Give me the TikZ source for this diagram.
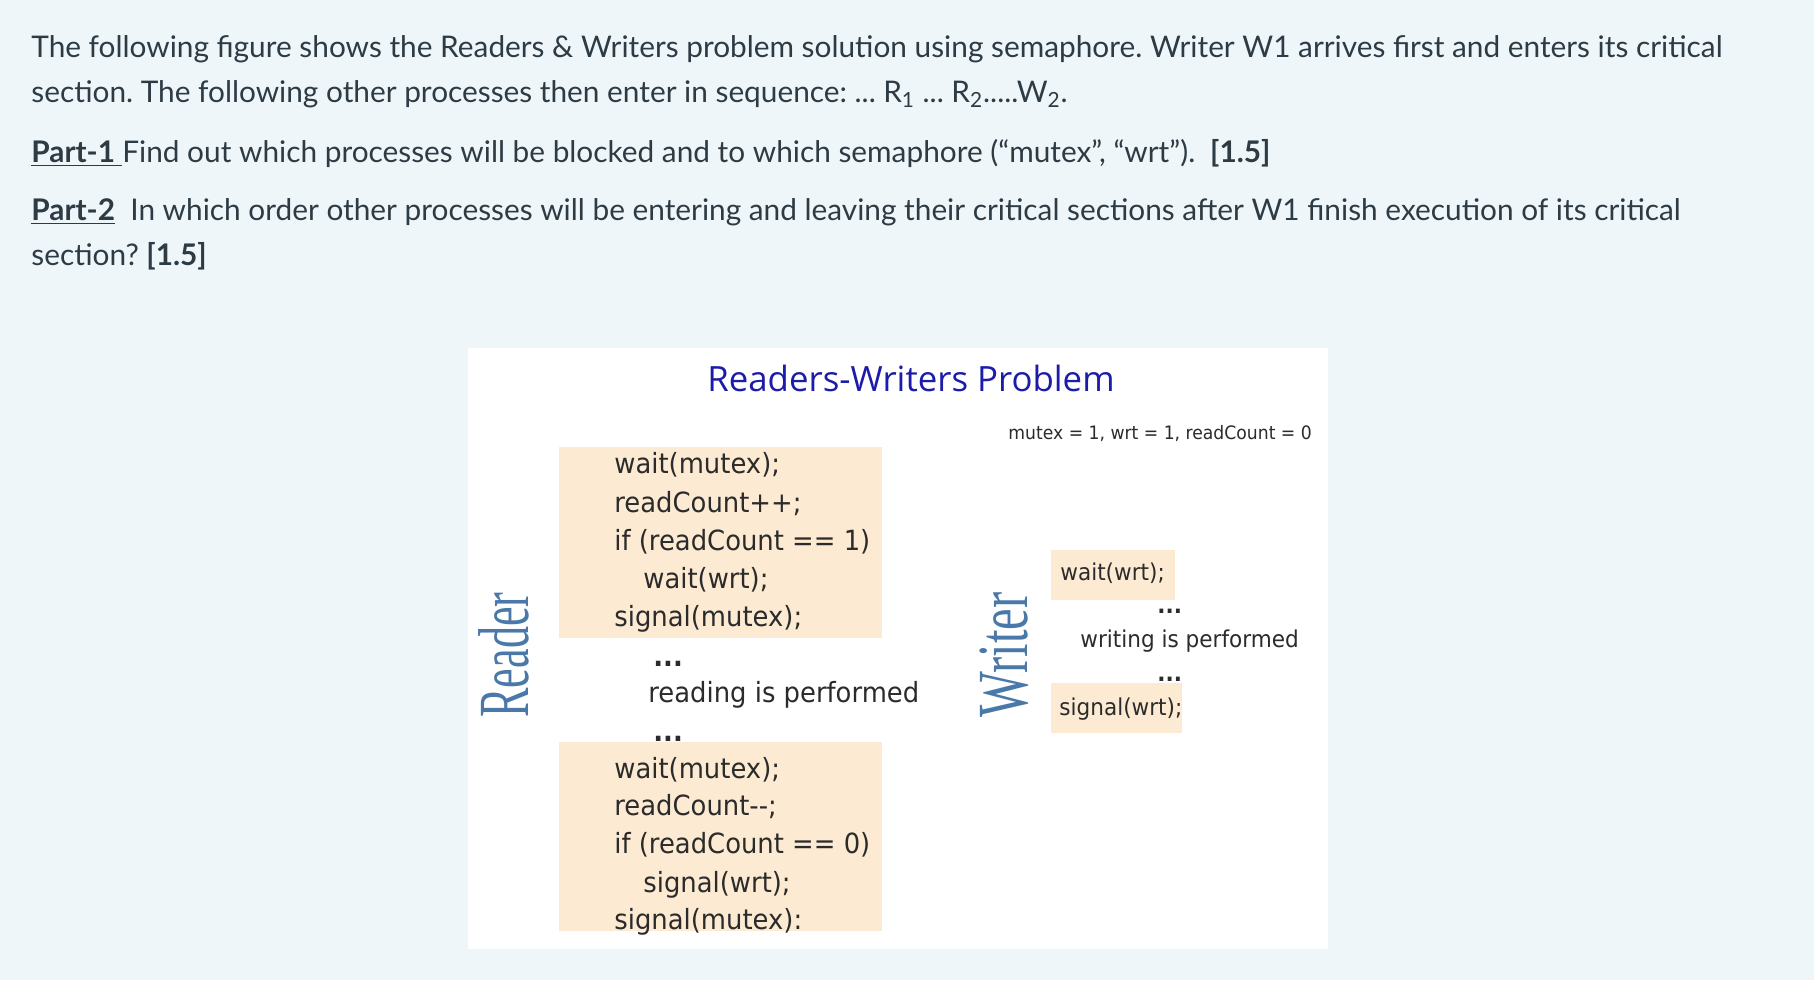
\documentclass[tikz,border=0pt]{standalone}
\usepackage{fontspec}
\setmainfont{Lato}
\newfontfamily\codefont[FakeStretch=0.93]{DejaVu Sans}
\newfontfamily\titlefont{Open Sans}
\newfontfamily\sidefont{Liberation Serif}
\usepackage{xcolor}
\definecolor{qtext}{HTML}{2D3B45}
\definecolor{pagebg}{HTML}{EFF6FA}
\definecolor{codebg}{HTML}{FCEBD2}
\definecolor{codetxt}{HTML}{2B2B2B}
\definecolor{titleblue}{HTML}{1C1CA8}
\definecolor{sideblue}{HTML}{4A79A9}
\usepackage{tikz}
\tikzset{
  qline/.style={anchor=base west, inner sep=0pt, text=qtext,
    font=\fontsize{14.9}{18}\selectfont\frenchspacing},
  code/.style={anchor=base west, inner sep=0pt, text=codetxt,
    font=\codefont\fontsize{13.9}{16}\selectfont},
  wcode/.style={code, font=\codefont\fontsize{11.6}{14}\selectfont},
  initline/.style={code, font=\codefont\fontsize{9.25}{11}\selectfont},
  codebox/.style={fill=codebg},
  sidelbl/.style={rotate=90, anchor=base, inner sep=0pt, text=sideblue,
    font=\sidefont\fontsize{36}{40}\selectfont},
}

\begin{document}
\begin{tikzpicture}[x=0.5pt, y=-0.5pt]
\fill[pagebg] (0,0) rectangle (1814,980);
\useasboundingbox (0,0) rectangle (1814,980);
% question text
\node[qline] (q1) at (31,57) {The following figure shows the Readers \& Writers problem solution using semaphore. Writer W1 arrives first and enters its critical};
\node[qline] (q2) at (31,102) {section. The following other processes then enter in sequence: ... R\textsubscript{1} ... R\textsubscript{2}.....W\textsubscript{2}.};
\node[qline] (q3) at (31,162) {\underline{\textbf{Part-1 }}Find out which processes will be blocked and to which semaphore (“mutex”, “wrt”).\ \ \textbf{[1.5]}};
\node[qline] (q4) at (31,220) {\underline{\textbf{Part-2}}\ \ In which order other processes will be entering and leaving their critical sections after W1 finish execution of its critical};
\node[qline] (q5) at (31,265) {section? \textbf{[1.5]}};
% the figure
\fill[white] (468,348) rectangle (1328,949);
\node[anchor=base, inner sep=0pt, text=titleblue, font=\titlefont\fontsize{17.4}{20}\selectfont]
  (title) at (911,391) {Readers-Writers Problem};
\node[initline] (init) at (1008,439) {mutex = 1, wrt = 1, readCount = 0};
% reader
\fill[codebox] (559,447) rectangle (882,638);
\fill[codebox] (559,742) rectangle (882,931);
\node[sidelbl] (reader) at (528,655) {\scalebox{0.613}[1]{Reader}};
\foreach \x/\y/\txt [count=\i] in {614/473/wait(mutex);, 614/512/readCount++;,
    614/550/if (readCount == 1), 643/588/wait(wrt);, 614/626/signal(mutex);}
  \node[code] (rin\i) at (\x,\y) {\txt};
\node[code] (rdots1) at (653,666) {\textbf{...}};
\node[code] (reading) at (648,702) {reading is performed};
\node[code] (rdots2) at (653,741) {\textbf{...}};
\foreach \x/\y/\txt [count=\i] in {614/778/wait(mutex);, 614/815/readCount-{}-;,
    614/853/if (readCount == 0), 643/892/signal(wrt);, 614/929/signal(mutex):}
  \node[code] (rout\i) at (\x,\y) {\txt};
% writer
\fill[codebox] (1051,550) rectangle (1175,600);
\fill[codebox] (1051,683) rectangle (1182,733);
\node[sidelbl] (writer) at (1027,655) {\scalebox{0.675}[1]{Writer}};
\node[wcode] (win) at (1060,580) {wait(wrt);};
\node[wcode] (wdots1) at (1157,613) {\textbf{...}};
\node[wcode] (writing) at (1080,647) {writing is performed};
\node[wcode] (wdots2) at (1157,681) {\textbf{...}};
\node[wcode] (wout) at (1059,715) {signal(wrt);};
\end{tikzpicture}
\end{document}
